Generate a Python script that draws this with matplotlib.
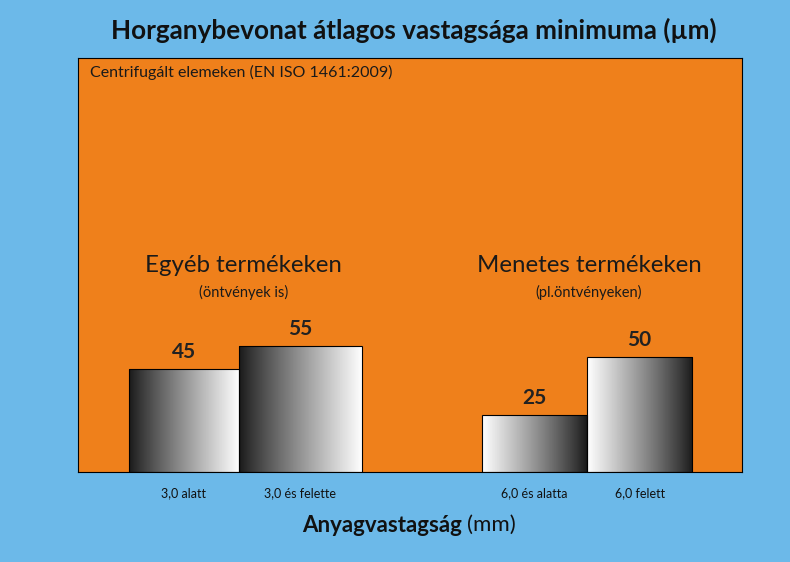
import numpy as np
import matplotlib
matplotlib.use('Agg')
import matplotlib.pyplot as plt

plt.rcParams['font.family'] = ['Lato', 'DejaVu Sans']

# data
labels = ['3,0 alatt', '3,0 és felette', '6,0 és alatta', '6,0 felett']
values = [45, 55, 25, 50]
groups = ['Egyéb termékeken', 'Menetes termékeken']
group_notes = ['(öntvények is)', '(pl.öntvényeken)']
title = 'Horganybevonat átlagos vastagsága minimuma (µm)'
note = 'Centrifugált elemeken (EN ISO 1461:2009)'

blue = '#6cb9e9'
orange = '#ef801b'

fig = plt.figure(figsize=(7.9, 5.62), dpi=100, facecolor=blue)
ax = fig.add_axes([78/790, 90/562, 664/790, 414/562])
ax.set_facecolor(orange)

# bar layout: two groups of two adjacent bars
lefts = [0.0, 1.0, 3.21, 4.16]
widths = [1.0, 1.12, 0.95, 0.96]

ramp = np.linspace(0, 1, 256) ** 0.9
for i, (x0, w, v) in enumerate(zip(lefts, widths, values)):
    g = ramp if i < 2 else ramp[::-1]
    img = np.tile(0.1 + 0.9 * g, (2, 1))
    im = ax.imshow(img, cmap='gray', vmin=0, vmax=1, aspect='auto',
                   extent=(x0, x0 + w, 0, v), origin='lower', zorder=2)
    rect = plt.Rectangle((x0, 0), w, v, facecolor='none',
                         edgecolor='black', lw=0.8, zorder=3)
    ax.add_patch(rect)
    im.set_clip_path(rect)
    ax.text(x0 + w / 2, v + 3, str(v), ha='center', va='bottom',
            fontsize=15, fontweight='bold', color='#222222')

ax.set_xlim(-0.46, 5.57)
ax.set_ylim(0, 180)
ax.set_xticks([x + w / 2 for x, w in zip(lefts, widths)])
ax.set_xticklabels(labels, fontsize=9, color='#111111')
ax.tick_params(axis='x', length=0, pad=11)
ax.set_yticks([])
for s in ax.spines.values():
    s.set_linewidth(0.8)
    s.set_color('black')

centers = [1.04, 4.18]
for c, gname, gn in zip(centers, groups, group_notes):
    ax.text(c, 90, gname, ha='center', va='center', fontsize=17.3, color='#1a1a1a')
    ax.text(c, 78, gn, ha='center', va='center', fontsize=10.5, color='#1a1a1a')

ax.text(0.018, 0.965, note, transform=ax.transAxes, ha='left', va='center',
        fontsize=11.5, color='#1a1a1a')

fig.text(414/790, 1 - 30/562, title, ha='center', va='center',
         fontsize=18.8, fontweight='bold', color='#111111')
fig.text(462/790, 1 - 525/562, 'Anyagvastagság', ha='right', va='center',
         fontsize=16, fontweight='bold', color='#111111')
fig.text(467/790, 1 - 525/562, '(mm)', ha='left', va='center',
         fontsize=16, color='#111111')

fig.savefig('out.png', dpi=100, facecolor=blue)
